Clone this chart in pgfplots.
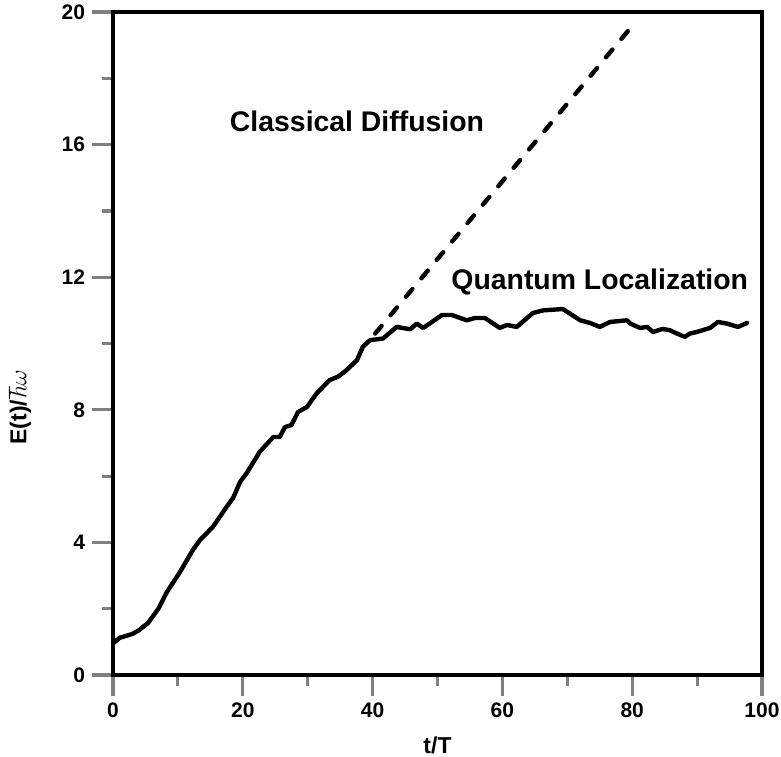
\documentclass[border=0pt]{standalone}
\usepackage{fontspec}
\setmainfont{Liberation Sans}
\usepackage{pgfplots}
\pgfplotsset{compat=1.18}
\begin{document}
\begin{tikzpicture}
\begin{axis}[name=ax, scale only axis, width=324.5pt, height=331.5pt,
  xmin=0, xmax=100, ymin=0, ymax=20,
  xtick={0,20,...,100}, ytick={0,4,...,20},
  minor xtick={10,30,50,70,90}, minor ytick={2,6,10,14,18},
  xtick pos=left, ytick pos=left,
  tick align=outside, major tick length=10.5pt, minor tick length=5.5pt,
  axis line style={line width=1.6pt},
  tick style={line width=1.6pt},
  clip=false,
  /pgf/number format/assume math mode=true,
  tick label style={font=\bfseries\fontsize{10.5}{12}\selectfont},
  xlabel={t/T}, ylabel={E(t)/$\hbar\omega$},
  xlabel style={font=\bfseries\fontsize{11.5}{13}\selectfont, at={(axis description cs:0.5,-0.1056)}, anchor=center},
  ylabel style={font=\bfseries\fontsize{11.5}{13}\selectfont, at={(axis description cs:-0.1433,0.404)}, anchor=center},
]
\addplot[black, line width=2.2pt, line join=round, line cap=round] coordinates {
(0,0.95) (1,1.12) (3,1.24) (4,1.35) (5.4,1.57) (7,2.0) (8.3,2.5) (10.3,3.1)
(12.3,3.77) (13.4,4.07) (15.4,4.47) (17.5,5.07) (18.5,5.34) (19.6,5.83)
(20.6,6.09) (22.6,6.73) (24.7,7.18) (25.7,7.18) (26.5,7.48) (27.5,7.54)
(28.5,7.93) (29.9,8.09) (31.4,8.5) (33.4,8.9) (34.7,9.0) (36,9.2) (37.6,9.5)
(38.5,9.9) (39.6,10.1) (41.6,10.15) (43.7,10.5) (45.8,10.43) (46.8,10.6)
(47.8,10.47) (50.7,10.86) (52.2,10.86) (54.5,10.7) (55.8,10.77) (57.3,10.77)
(59.6,10.47) (60.7,10.56) (62.2,10.5) (64.7,10.92) (66.3,11.0) (69.3,11.04)
(72,10.7) (73.5,10.62) (75,10.5) (76.6,10.65) (79.2,10.7) (79.7,10.6)
(81.2,10.47) (82.3,10.5) (83.2,10.35) (84.7,10.44) (85.8,10.4) (86.9,10.3)
(88.1,10.2) (88.9,10.3) (90,10.35) (92,10.47) (93.2,10.65) (94.6,10.6)
(96.3,10.5) (97.7,10.62)
};
\addplot[black, line width=2.2pt, line cap=round, dash pattern=on 5pt off 7pt] coordinates {
(40.4,10.3) (80.3,19.65)
};
\node[font=\bfseries\fontsize{14.2}{16}\selectfont] at (axis cs:37.6,16.7) {Classical Diffusion};
\node[font=\bfseries\fontsize{14.2}{16}\selectfont] at (axis cs:75,11.86) {Quantum Localization};
\end{axis}
\fill[black] ([shift={(0.8pt,-0.8pt)}]ax.north east) rectangle ([shift={(-0.8pt,0.8pt)}]ax.north west);
\fill[black] ([shift={(-0.8pt,-0.8pt)}]ax.south east) rectangle ([shift={(0.8pt,0.8pt)}]ax.north east);
\path (ax.south west)+(-56.5pt,-40.5pt) coordinate (bl);
\path (ax.north east)+(9.5pt,6pt) coordinate (tr);
\pgfresetboundingbox
\path[use as bounding box] (bl) rectangle (tr);
\end{tikzpicture}
\end{document}
